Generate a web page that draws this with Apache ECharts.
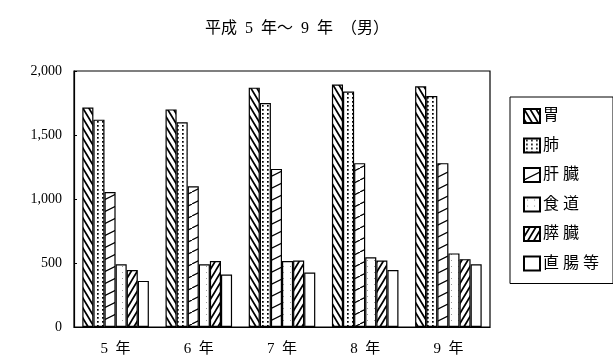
<!DOCTYPE html>
<html><head><meta charset="utf-8">
<script src="https://cdn.jsdelivr.net/npm/echarts@6/dist/echarts.min.js"></script>
<style>html,body{margin:0;padding:0;background:#fff}#c{width:613px;height:361px}</style>
</head><body><div id="c"></div>
<script>
const categories = ['5年', '6年', '7年', '8年', '9年'];
const seriesNames = ['胃', '肺', '肝臓', '食道', '膵臓', '直腸等'];
const stomach = [1715, 1700, 1870, 1895, 1880];
const lung = [1620, 1600, 1750, 1840, 1805];
const liver = [1055, 1100, 1235, 1280, 1280];
const esophagus = [490, 490, 515, 545, 575];
const pancreas = [445, 515, 520, 520, 530];
const rectum = [360, 410, 425, 445, 490];
const seriesValues = [stomach, lung, liver, esophagus, pancreas, rectum];

function tile(w, h, draw) {
  const c = document.createElement('canvas');
  c.width = w; c.height = h;
  const g = c.getContext('2d');
  g.fillStyle = '#fff'; g.fillRect(0, 0, w, h);
  g.strokeStyle = '#000'; g.fillStyle = '#000';
  draw(g, w, h);
  return { image: c, repeat: 'repeat' };
}
function lineSeg(g, pts, lw) {
  g.lineWidth = lw; g.beginPath();
  for (let i = 0; i < pts.length; i += 4) { g.moveTo(pts[i], pts[i+1]); g.lineTo(pts[i+2], pts[i+3]); }
  g.stroke();
}
const patterns = [
  tile(6, 10, (g, w, h) => lineSeg(g, [-w, -h, 2*w, 2*h, -w, 0, w, 2*h, 0, -h, 2*w, h], 1.7)),
  tile(5, 4, (g) => { g.fillRect(2, 1, 1.7, 1.7); }),
  tile(24, 12, (g, w, h) => lineSeg(g, [0, h, w, 0, -w, h, 0, 0, w, 2*h, 2*w, h], 1.2)),
  tile(7, 6, (g) => { g.fillStyle = '#999'; g.fillRect(3, 2, 1, 1); }),
  tile(6, 10, (g, w, h) => lineSeg(g, [-w, 2*h, 2*w, -h, -w, h, w, -h, 0, 2*h, 2*w, 0], 1.7)),
  '#fff'
];

const font = '"Liberation Serif", "Noto Sans CJK JP", serif';
const chart = echarts.init(document.getElementById('c'), null, { renderer: 'canvas' });
chart.setOption({
  animation: false,
  title: {
    text: '平成\u20025\u2002年～\u20029\u2002年\u3000（男）', left: 292, top: 16, textAlign: 'center',
    textStyle: { fontFamily: font, fontWeight: 'normal', fontSize: 16, color: '#000' }
  },
  grid: { left: 74, right: 123, top: 71, bottom: 34, show: true, borderColor: '#000', borderWidth: 1.2 },
  legend: {
    orient: 'vertical', left: 510, top: 97,
    itemWidth: 16, itemHeight: 14, itemGap: 13.5,
    padding: [11, 14, 12, 13],
    borderColor: '#000', borderWidth: 1, icon: 'rect',
    formatter: n => n.split('').join('\u2005'),
    textStyle: { fontFamily: font, fontSize: 16, lineHeight: 16, color: '#000', padding: [0, 0, 0, -2] },
    data: seriesNames
  },
  xAxis: {
    type: 'category', data: categories,
    axisLine: { lineStyle: { color: '#000', width: 1.2 } },
    axisTick: { inside: true, length: 5, lineStyle: { color: '#000' } },
    axisLabel: { fontFamily: font, fontSize: 15, color: '#000', margin: 15,
      formatter: v => v.replace('年', '\u2002年') }
  },
  yAxis: {
    type: 'value', min: 0, max: 2000, interval: 500,
    axisLine: { show: true, lineStyle: { color: '#000', width: 1.2 } },
    axisTick: { show: true, inside: true, length: 3, lineStyle: { color: '#000' } },
    splitLine: { show: false },
    axisLabel: { fontFamily: font, fontSize: 14, color: '#000', margin: 12,
      formatter: v => v.toLocaleString('en-US') }
  },
  series: seriesNames.map((n, i) => ({
    name: n, type: 'bar', data: seriesValues[i],
    barGap: '0%', barCategoryGap: '20%',
    itemStyle: { color: patterns[i], borderColor: '#000', borderWidth: 1.2 }
  }))
});
</script></body></html>
